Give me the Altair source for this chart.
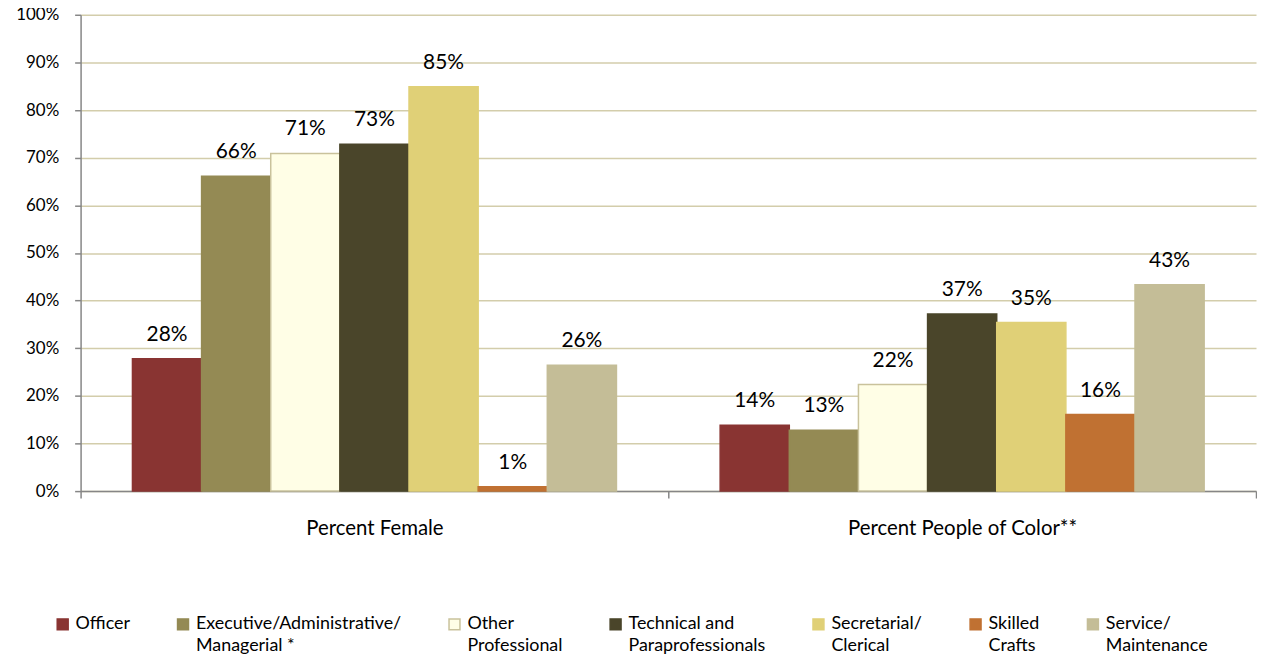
import altair as alt
import pandas as pd

groups = ["Percent Female", "Percent People of Color**"]
occupations = [
    "Officer|",
    "Executive/Administrative/|Managerial *",
    "Other|Professional",
    "Technical and|Paraprofessionals",
    "Secretarial/|Clerical",
    "Skilled|Crafts",
    "Service/|Maintenance",
]
female = [27.8, 66.1, 70.9, 72.8, 84.9, 0.9, 26.4]
people_of_color = [13.8, 12.8, 22.4, 37.2, 35.4, 16.1, 43.3]
fill_colors = ["#893432", "#948A54", "#FFFEE6", "#4A452A", "#E0D077", "#C07132", "#C4BD97"]
stroke_colors = ["#893432", "#948A54", "#C9C29C", "#4A452A", "#E0D077", "#C07132", "#C4BD97"]

rows = []
for g, vals in zip(groups, [female, people_of_color]):
    for o, v in zip(occupations, vals):
        rows.append({"group": g, "occ": o, "value": v, "label": f"{round(v)}%"})
df = pd.DataFrame(rows)

FONT = "Lato"

x = alt.X(
    "group:N",
    sort=groups,
    title=None,
    scale=alt.Scale(paddingInner=0, paddingOuter=0),
    axis=alt.Axis(
        tickBand="extent",
        labelAngle=0,
        labelFontSize=20.5,
        labelPadding=21,
        labelLimit=500,
        labelColor="#000000",
        tickSize=7,
        tickColor="#868686",
        domainColor="#868686",
        domainWidth=1.5,
        tickWidth=1.5,
        labelFont=FONT,
    ),
)
xoff = alt.XOffset("occ:N", sort=occupations, scale=alt.Scale(paddingOuter=0.75, paddingInner=0))
y = alt.Y(
    "value:Q",
    title=None,
    scale=alt.Scale(domain=[0, 100], nice=False),
    axis=alt.Axis(
        values=list(range(0, 101, 10)),
        labelExpr="datum.value + '%'",
        labelFontSize=17,
        labelFont=FONT,
        labelColor="#000000",
        labelPadding=16,
        tickSize=6,
        tickColor="#868686",
        tickWidth=1.5,
        domainColor="#868686",
        domainWidth=1.5,
        gridColor="#D3CDAB",
        gridWidth=1.5,
    ),
)

legend_opts = dict(
    title=None,
    orient="none",
    legendX=-27,
    legendY=604,
    direction="horizontal",
    columns=7,
    columnPadding=44,
    symbolType="square",
    symbolSize=121,
    labelFontSize=18,
    labelFont=FONT,
    labelColor="#000000",
    labelBaseline="middle",
    labelOffset=4,
    labelLimit=400,
    labelExpr="split(datum.label, '|')",
)

color = alt.Color(
    "occ:N",
    sort=occupations,
    scale=alt.Scale(domain=occupations, range=fill_colors),
    legend=alt.Legend(**legend_opts),
)
stroke = alt.Stroke(
    "occ:N",
    sort=occupations,
    scale=alt.Scale(domain=occupations, range=stroke_colors),
    legend=alt.Legend(**legend_opts),
)

base = alt.Chart(df).encode(x=x, xOffset=xoff, y=y)
bars = base.mark_bar(strokeWidth=1.5).encode(color=color, stroke=stroke)
labels = base.mark_text(baseline="bottom", dy=-14, fontSize=21, font=FONT, color="#000000").encode(text="label:N")

chart = (
    alt.layer(bars, labels)
    .properties(
        width=1182,
        height=479,
        autosize=alt.AutoSizeParams(type="none"),
        padding={"left": 73, "top": 5, "right": 1, "bottom": 162},
    )
    .configure(style={"guide-label": {"lineHeight": 22}})
    .configure_view(stroke=None)
)

chart.save("out.html", embed_options={"renderer": "svg", "actions": False})
